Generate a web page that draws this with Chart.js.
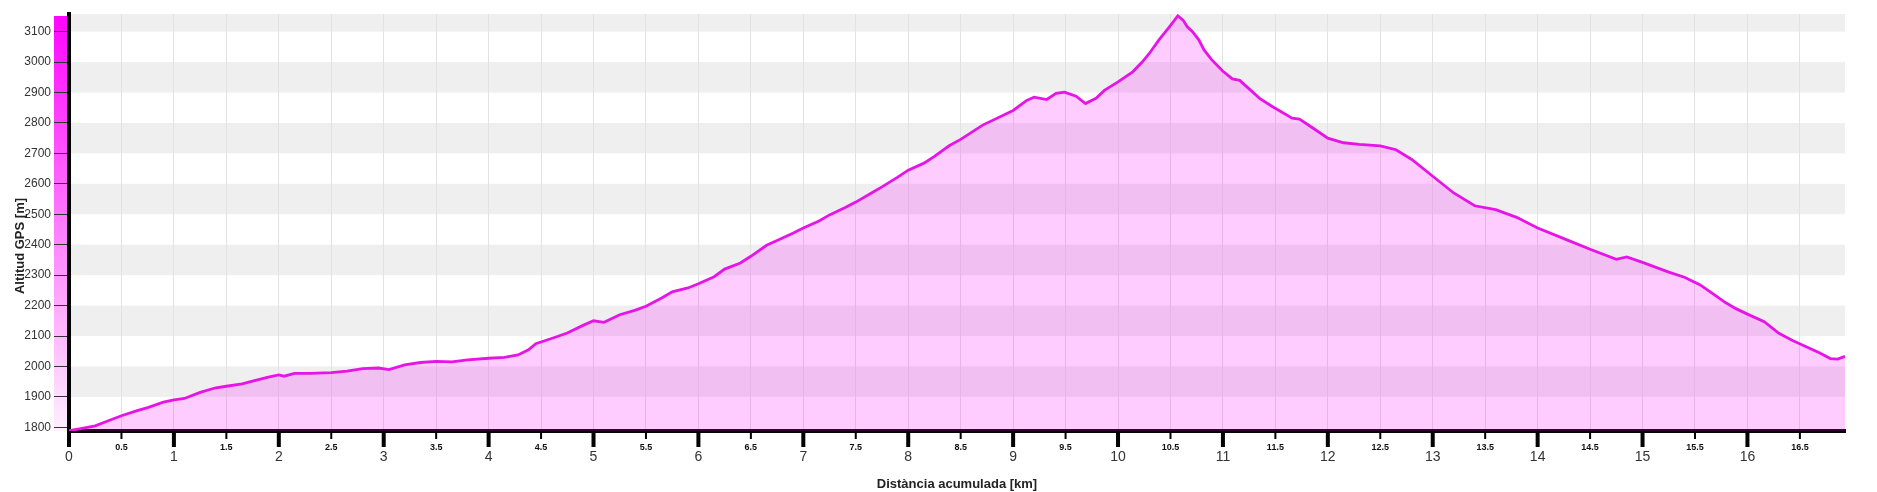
<!DOCTYPE html>
<html>
<head>
<meta charset="utf-8">
<script src="https://cdn.jsdelivr.net/npm/chart.js@4.4.1/dist/chart.umd.min.js"></script>
<style>
  body { margin: 0; background: #fff; }
  #perfil { display: block; }
</style>
</head>
<body>
<canvas id="perfil" width="1877" height="492"></canvas>
<script>
// Perfil d'altitud: distància acumulada (km) i altitud GPS (m)
const distKm = [
    0.00, 0.10, 0.25, 0.40, 0.50, 0.65, 0.75, 0.90, 1.00, 1.10,
    1.25, 1.40, 1.50, 1.65, 1.75, 1.90, 2.00, 2.05, 2.15, 2.30,
    2.50, 2.65, 2.80, 2.95, 3.05, 3.20, 3.35, 3.50, 3.65, 3.80,
    4.00, 4.15, 4.28, 4.38, 4.45, 4.60, 4.75, 4.90, 5.00, 5.10,
    5.25, 5.40, 5.50, 5.65, 5.75, 5.90, 6.00, 6.15, 6.25, 6.40,
    6.50, 6.65, 6.75, 6.90, 7.00, 7.15, 7.25, 7.40, 7.50, 7.65,
    7.75, 7.90, 8.00, 8.15, 8.25, 8.39, 8.50, 8.71, 9.00, 9.13,
    9.20, 9.32, 9.41, 9.49, 9.60, 9.69, 9.79, 9.87, 10.00, 10.14,
    10.23, 10.30, 10.39, 10.49, 10.57, 10.62, 10.66, 10.71, 10.77, 10.82,
    10.89, 11.00, 11.09, 11.16, 11.35, 11.47, 11.66, 11.73, 11.85, 12.00,
    12.15, 12.30, 12.50, 12.65, 12.80, 13.00, 13.20, 13.40, 13.60, 13.80,
    14.00, 14.25, 14.50, 14.75, 14.85, 15.00, 15.25, 15.40, 15.55, 15.70,
    15.79, 15.89, 16.00, 16.16, 16.30, 16.43, 16.56, 16.69, 16.79, 16.86,
    16.93
];
const altM = [
    1789, 1795, 1805, 1825, 1838, 1855, 1865, 1883, 1890, 1895,
    1915, 1930, 1935, 1943, 1952, 1965, 1972, 1968, 1977, 1977,
    1980, 1985, 1993, 1995, 1990, 2005, 2013, 2017, 2015, 2022,
    2027, 2030, 2038, 2055, 2075, 2092, 2110, 2135, 2150, 2145,
    2170, 2185, 2198, 2225, 2245, 2258, 2272, 2295, 2320, 2340,
    2362, 2398, 2414, 2438, 2455, 2478, 2498, 2522, 2540, 2570,
    2590, 2622, 2645, 2668, 2690, 2725, 2746, 2793, 2841, 2874,
    2885, 2877, 2897, 2901, 2888, 2864, 2881, 2907, 2935, 2968,
    3000, 3029, 3073, 3116, 3152, 3138, 3116, 3100, 3073, 3040,
    3009, 2970, 2945, 2940, 2881, 2854, 2816, 2813, 2785, 2750,
    2735, 2730, 2725, 2712, 2680, 2625, 2570, 2528, 2515, 2490,
    2455, 2420, 2385, 2352, 2360, 2342, 2310, 2293, 2268, 2232,
    2210, 2190, 2172, 2147, 2109, 2085, 2065, 2044, 2026, 2024,
    2033
];

const yTicks = [1800, 1900, 2000, 2100, 2200, 2300, 2400, 2500, 2600, 2700, 2800, 2900, 3000, 3100];
const xTicks = [0, 0.5, 1, 1.5, 2, 2.5, 3, 3.5, 4, 4.5, 5, 5.5, 6, 6.5, 7, 7.5, 8, 8.5,
                9, 9.5, 10, 10.5, 11, 11.5, 12, 12.5, 13, 13.5, 14, 14.5, 15, 15.5, 16, 16.5];

const tituloX = "Distància acumulada [km]";
const tituloY = "Altitud GPS [m]";
const FONT = '"Liberation Sans", Arial, sans-serif';

// fondo: franjas grises y barra de color a la izquierda
const fondoPlugin = {
    id: 'fondo',
    beforeDraw(chart) {
        const { ctx, chartArea: a, scales: { y } } = chart;
        ctx.save();
        ctx.beginPath();
        ctx.rect(a.left, a.top, a.right - a.left, a.bottom - a.top);
        ctx.clip();
        ctx.fillStyle = '#efefef';
        yTicks.forEach(v => {
            if ((v / 100) % 2 === 1) {
                const y1 = y.getPixelForValue(v + 100);
                const y2 = y.getPixelForValue(v);
                ctx.fillRect(a.left, y1, a.right - a.left, y2 - y1);
            }
        });
        ctx.restore();

        const grad = ctx.createLinearGradient(0, a.top + 2, 0, a.bottom);
        grad.addColorStop(0, '#ff05ff');
        grad.addColorStop(1, '#fff0ff');
        ctx.fillStyle = grad;
        ctx.fillRect(a.left - 15, a.top + 2, 13, a.bottom - a.top - 2);
    }
};

// marcas y etiquetas del eje X, y titulos
const ejesPlugin = {
    id: 'ejes',
    afterDraw(chart) {
        const { ctx, chartArea: a, scales: { x } } = chart;
        ctx.save();
        ctx.textAlign = 'center';
        ctx.textBaseline = 'middle';
        xTicks.forEach(v => {
            const px = x.getPixelForValue(v);
            const mayor = Number.isInteger(v);
            ctx.fillStyle = '#000';
            if (mayor) {
                ctx.fillRect(px - 2, a.bottom + 2, 4, 14);
                ctx.fillStyle = '#333';
                ctx.font = '14px ' + FONT;
                ctx.fillText(String(v), px, a.bottom + 26);
            } else {
                ctx.fillRect(px - 1, a.bottom + 2, 2, 6);
                ctx.fillStyle = '#111';
                ctx.font = 'bold 9px ' + FONT;
                ctx.fillText(String(v), px, a.bottom + 17);
            }
        });

        ctx.fillStyle = '#222';
        ctx.font = 'bold 13px ' + FONT;
        ctx.fillText(tituloX, (a.left + a.right) / 2, a.bottom + 53);

        ctx.translate(20, chart.height / 2);
        ctx.rotate(-Math.PI / 2);
        ctx.fillText(tituloY, 0, 0);
        ctx.restore();
    }
};

const ctx = document.getElementById("perfil").getContext('2d');
new Chart(ctx, {
    type: 'line',
    data: {
        datasets: [{
            label: tituloY,
            data: distKm.map((d, i) => ({ x: d, y: altM[i] })),
            borderColor: '#e614e6',
            borderWidth: 2.8,
            backgroundColor: 'rgba(255, 0, 255, 0.2)',
            fill: 'start',
            pointRadius: 0,
            tension: 0
        }]
    },
    options: {
        responsive: false,
        animation: false,
        layout: { padding: { left: 0, top: 14, right: 32, bottom: 0 } },
        plugins: {
            legend: { display: false },
            tooltip: { enabled: false }
        },
        scales: {
            x: {
                type: 'linear',
                min: 0,
                max: 16.93,
                afterBuildTicks: s => { s.ticks = xTicks.map(v => ({ value: v })); },
                afterFit: s => { s.height = 61; },
                grid: { color: '#e2e2e2', lineWidth: 1, drawTicks: false },
                border: { display: true, color: '#000', width: 4 },
                ticks: { display: false }
            },
            y: {
                min: 1788,
                max: 3158,
                afterBuildTicks: s => { s.ticks = yTicks.map(v => ({ value: v })); },
                afterFit: s => { s.width = 69; },
                grid: { drawOnChartArea: false, tickLength: 15, tickColor: '#333', tickWidth: 1 },
                border: { display: true, color: '#000', width: 4 },
                ticks: {
                    color: '#333',
                    padding: 3,
                    font: { family: FONT, size: 12 },
                    callback: v => String(v)
                }
            }
        }
    },
    plugins: [fondoPlugin, ejesPlugin]
});
</script>
</body>
</html>
